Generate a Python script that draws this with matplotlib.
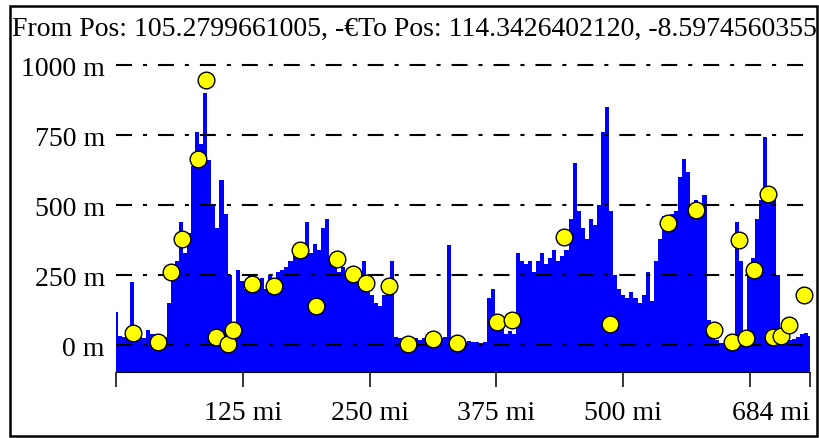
"""Elevation profile along a route, with waypoint markers."""

import matplotlib

matplotlib.use("Agg")
import matplotlib.pyplot as plt  # noqa: E402
import numpy as np  # noqa: E402
from matplotlib.patches import Rectangle  # noqa: E402

plt.rcParams.update(
    {
        "font.family": ["Liberation Serif", "DejaVu Serif"],
        "font.size": 20,
        "lines.scale_dashes": False,
        "axes.linewidth": 0.8,
    }
)

TITLE = "From Pos: 105.2799661005, -\u20acTo Pos: 114.3426402120, -8.5974560355"

# profile samples every 4 mi (0 .. 684), elevation in metres
profile_step_mi = 4
profile_elev_m = [
    120, 35, 30, 40, 225, 35, 30, 25, 55, 40,
    20, 25, 30, 150, 250, 300, 440, 330, 400, 640,
    760, 720, 900, 660, 500, 420, 590, 470, 250, 60,
    270, 230, 200, 250, 230, 210, 240, 200, 250, 220,
    260, 270, 280, 300, 340, 350, 320, 440, 330, 360,
    340, 420, 450, 310, 280, 260, 280, 250, 260, 240,
    230, 300, 200, 180, 150, 140, 180, 240, 300, 30,
    25, 20, 25, 30, 25, 20, 25, 30, 30, 25,
    25, 30, 357, 25, 20, 12, 12, 15, 12, 12,
    10, 12, 170, 200, 90, 60, 40, 50, 40, 330,
    300, 290, 300, 262, 300, 330, 290, 310, 340, 300,
    320, 340, 450, 650, 480, 420, 380, 450, 430, 500,
    760, 850, 480, 250, 200, 180, 170, 190, 170, 150,
    180, 262, 160, 300, 380, 460, 440, 470, 480, 600,
    666, 620, 500, 520, 490, 535, 90, 75, 20, 10,
    8, 5, 10, 440, 300, 35, 250, 310, 450, 520,
    744, 560, 550, 250, 24, 24, 20, 24, 30, 40,
    45, 35,
]

# waypoint markers: distance (mi) and elevation (m)
waypoint_mi = [
    16.4, 41.1, 54.2, 65.4, 80.5, 88.4, 98.2, 110.7, 115.6, 133.7,
    155.7, 181.4, 197.1, 218.1, 233.9, 246.4, 269.1, 288.1, 312.1, 336.0,
    375.2, 390.6, 441.5, 486.9, 543.7, 571.6, 589.4, 606.8, 614.0, 620.9,
    629.1, 642.9, 647.9, 655.1, 663.6, 678.1,
]
waypoint_m = [
    45, 12, 262, 381, 666, 946, 30, 6, 54, 220,
    211, 339, 140, 309, 253, 224, 211, 6, 21, 10,
    83, 92, 387, 75, 437, 484, 54, 12, 377, 27,
    270, 539, 30, 32, 71, 181,
]

y_ticks = [0, 250, 500, 750, 1000]
x_ticks = [0, 125, 250, 375, 500, 625, 684]
x_tick_labels = ["", "125 mi", "250 mi", "375 mi", "500 mi", "", "684 mi"]

total_mi = 684
y_floor, y_top = -95, 1100

W, H = 820, 439
fig = plt.figure(figsize=(W / 100, H / 100), dpi=100)
ax = fig.add_axes([116 / W, 66 / H, 694 / W, 335 / H])

dist = np.arange(len(profile_elev_m)) * profile_step_mi
elev = np.asarray(profile_elev_m, dtype=float)
ax.fill_between(dist, y_floor, elev, step="mid", color="#0000ff", lw=0, zorder=1)

# dash-dot reference lines, drawn over the terrain
for yv in y_ticks:
    ax.axhline(
        yv,
        color="black",
        lw=1.5,
        linestyle=(0, (11.5, 7.9, 2.9, 7.9)),
        zorder=2,
    )

ax.plot(
    waypoint_mi,
    waypoint_m,
    "o",
    ms=12,
    mfc="#ffff00",
    mec="black",
    mew=1.0,
    zorder=3,
    clip_on=False,
)

ax.set_xlim(0, total_mi)
ax.set_ylim(y_floor, y_top)

ax.set_yticks(y_ticks, [f"{v} m" for v in y_ticks])
ax.set_xticks(x_ticks, x_tick_labels)
ax.get_xticklabels()[-1].set_horizontalalignment("right")
ax.tick_params(axis="y", length=0, pad=8)
ax.tick_params(axis="x", direction="out", length=11, width=1.1, pad=9)

for side in ("top", "left", "right"):
    ax.spines[side].set_visible(False)
ax.spines["bottom"].set_color("black")

fig.text(12 / W, 1 - 36 / H, TITLE, ha="left", va="baseline", fontsize=20)

fig.patches.append(
    Rectangle(
        (10 / W, 2 / H),
        807 / W,
        430 / H,
        transform=fig.transFigure,
        fill=False,
        edgecolor="black",
        lw=1.8,
    )
)

fig.savefig("out.png", dpi=100)
plt.close(fig)
